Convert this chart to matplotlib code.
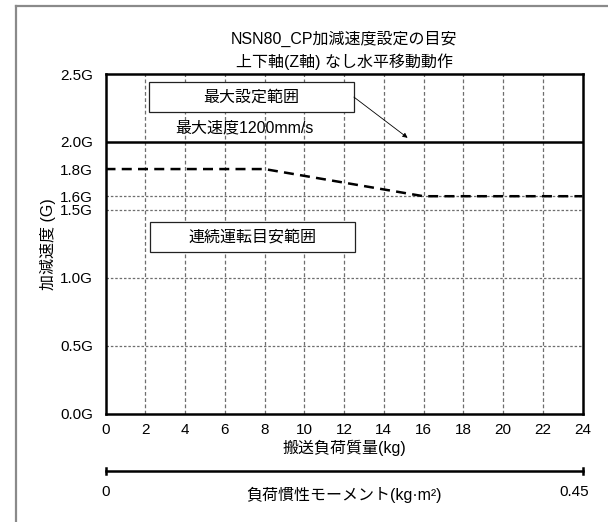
import matplotlib.pyplot as plt
from matplotlib.lines import Line2D
from matplotlib.patches import Rectangle

plt.rcParams["font.family"] = ["Liberation Sans", "Noto Sans CJK JP", "DejaVu Sans"]

# data
LOAD_KG = [0, 8, 16, 24]
ACCEL_G = [1.8, 1.8, 1.6, 1.6]
MAX_ACCEL_G = 2.0
Y_TICKS = [0.0, 0.5, 1.0, 1.5, 1.6, 1.8, 2.0, 2.5]
Y_GRID = [0.5, 1.0, 1.5, 1.6]
X_TICKS = list(range(0, 25, 2))
INERTIA_RANGE = ["0", "0.45"]

TITLE = "NSN80_CP加減速度設定の目安\n上下軸(Z軸) なし水平移動動作"
GRID_COLOR = "#6e6e6e"
FS = 11.5


def main():
    fig = plt.figure(figsize=(6.08, 5.22), dpi=100)
    ax = fig.add_axes([105.5 / 608, 1 - 413.5 / 522, 477 / 608, 339.5 / 522])

    # outer frame (partly cut off in the reference)
    fig.add_artist(Line2D([16 / 608, 16 / 608], [0, 1 - 6 / 522],
                          color="#8a8a8a", lw=1.6, transform=fig.transFigure))
    fig.add_artist(Line2D([16 / 608, 1], [1 - 6 / 522, 1 - 6 / 522],
                          color="#8a8a8a", lw=1.6, transform=fig.transFigure))

    for x in X_TICKS[1:-1]:
        ax.axvline(x, color=GRID_COLOR, lw=0.9, ls=(0, (3, 2)), zorder=1)
    for y in Y_GRID:
        ax.axhline(y, color=GRID_COLOR, lw=0.9, ls=(0, (2, 1.5)), zorder=1)

    ax.axhline(MAX_ACCEL_G, color="black", lw=1.8, zorder=3)
    ax.plot(LOAD_KG, ACCEL_G, color="black", lw=1.8, ls=(0, (4, 2.5)), zorder=3)

    ax.set_xlim(0, 24)
    ax.set_ylim(0, 2.5)
    ax.set_xticks(X_TICKS)
    ax.set_yticks(Y_TICKS)
    ax.set_yticklabels([f"{v:.1f}G" for v in Y_TICKS])
    ax.tick_params(length=0, labelsize=11, pad=9)
    ax.tick_params(axis="x", pad=7)
    for spine in ax.spines.values():
        spine.set_linewidth(1.8)

    ax.set_xlabel("搬送負荷質量(kg)", fontsize=FS, labelpad=2)
    ax.set_ylabel("加減速度 (G)", fontsize=FS, labelpad=3)
    ax.set_title(TITLE, fontsize=FS, linespacing=1.45, pad=5)

    # annotation boxes
    for x0, y0, label in [(2.2, 2.22, "最大設定範囲"), (2.25, 1.19, "連続運転目安範囲")]:
        ax.add_patch(Rectangle((x0, y0), 10.3, 0.22, facecolor="white",
                               edgecolor="#222222", lw=0.9, zorder=4))
        ax.text(x0 + 5.15, y0 + 0.11, label, ha="center", va="center",
                fontsize=FS, zorder=5)

    ax.text(7.0, 2.105, "最大速度1200mm/s", ha="center", va="center",
            fontsize=FS, zorder=5)
    ax.annotate("", xy=(15.2, 2.03), xytext=(12.5, 2.33),
                arrowprops=dict(arrowstyle="-|>", color="black", lw=0.6,
                                mutation_scale=7, shrinkA=0, shrinkB=0),
                zorder=5)

    # secondary scale: load inertia moment
    y2 = 1 - 470.7 / 522
    x_left = 105.5 / 608
    x_right = 582.5 / 608
    fig.add_artist(Line2D([x_left, x_right], [y2, y2], color="black", lw=1.8,
                          transform=fig.transFigure))
    for xe in (x_left, x_right):
        fig.add_artist(Line2D([xe, xe], [y2 - 3 / 522, y2 + 3 / 522],
                              color="black", lw=1.8, transform=fig.transFigure))
    fig.text(x_left, 1 - 492 / 522, INERTIA_RANGE[0], ha="center", va="center",
             fontsize=11)
    fig.text(x_right - 8 / 608, 1 - 492 / 522, INERTIA_RANGE[1], ha="center",
             va="center", fontsize=11)
    fig.text(344 / 608, 1 - 495 / 522, "負荷慣性モーメント(kg·m²)", ha="center",
             va="center", fontsize=FS)

    fig.savefig("out.png", dpi=100)
    plt.close(fig)


if __name__ == "__main__":
    main()
